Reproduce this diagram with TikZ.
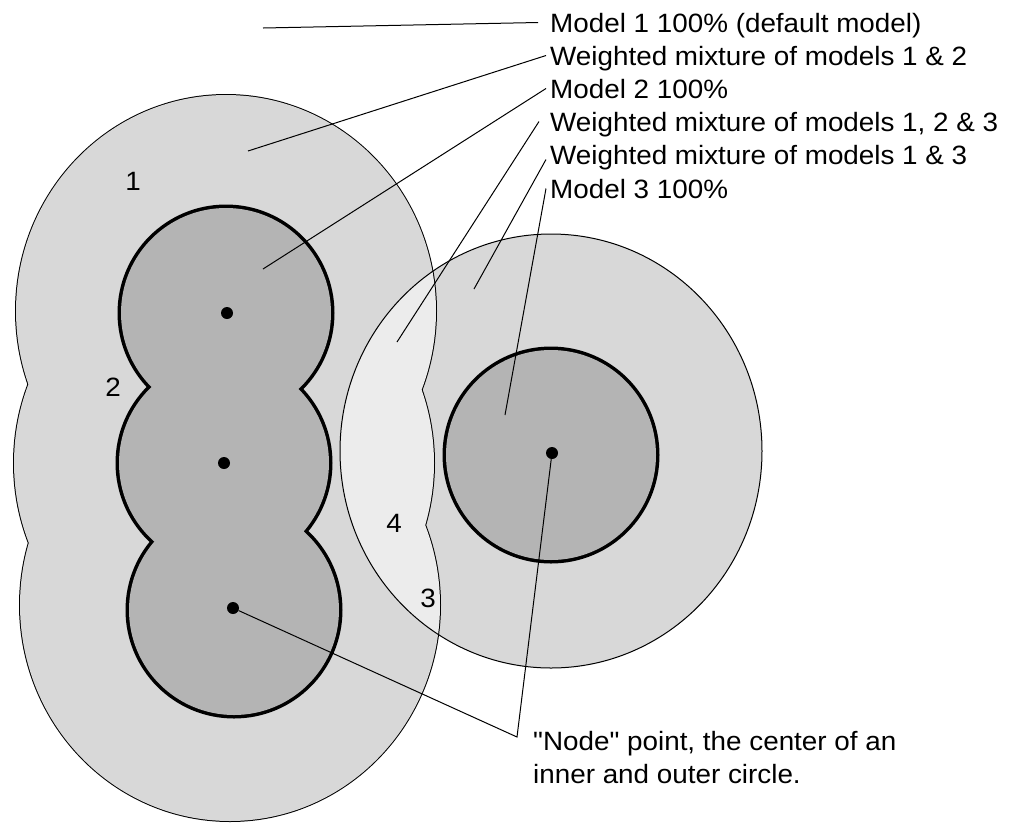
\documentclass[tikz,border=0pt]{standalone}
\usepackage{fontspec}
\setmainfont{Liberation Sans}[FakeStretch=1.05, Ligatures=TeXOff]
\usetikzlibrary{calc}
\definecolor{outerg}{HTML}{D8D8D8}
\definecolor{innerg}{HTML}{B4B4B4}
\definecolor{overg}{HTML}{ECECEC}
\newcommand\labfont{\fontsize{26.5}{33}\selectfont}
\begin{document}
\begin{tikzpicture}[x=1pt,y=-1pt,
  lbl/.style={anchor=base west, inner xsep=4pt, inner ysep=0pt, text height=19pt, text depth=0pt, font=\labfont},
  num/.style={anchor=base, inner sep=0pt, font=\labfont},
  lead/.style={draw=black, line width=1pt},
  dotn/.style={circle, fill=black, inner sep=0pt, minimum size=12pt}]
\useasboundingbox (0,0) rectangle (1012,823);
\fill[white] (0,0) rectangle (1012,823);
% left outer blob
\filldraw[fill=outerg, draw=black, line width=2pt]
  (226,311) ellipse [x radius=210, y radius=216]
  (224,463) ellipse [x radius=210, y radius=216]
  (230,605) ellipse [x radius=210, y radius=216];
\fill[outerg]
  (226,311) ellipse [x radius=210, y radius=216]
  (224,463) ellipse [x radius=210, y radius=216]
  (230,605) ellipse [x radius=210, y radius=216];
% right outer circle
\fill[outerg] (551,451) ellipse [x radius=211, y radius=217];
\begin{scope}
  \clip (551,451) ellipse [x radius=211, y radius=217];
  \draw[black, line width=2pt]
    (226,311) ellipse [x radius=210, y radius=216]
    (224,463) ellipse [x radius=210, y radius=216]
    (230,605) ellipse [x radius=210, y radius=216];
  \fill[overg]
    (226,311) ellipse [x radius=210, y radius=216]
    (224,463) ellipse [x radius=210, y radius=216]
    (230,605) ellipse [x radius=210, y radius=216];
\end{scope}
\draw[black, line width=1pt] (551,451) ellipse [x radius=211, y radius=217];
% inner circles
\draw[black, line width=7pt]
  (226,313) circle [radius=105]
  (224,463) circle [radius=105]
  (234,610) circle [radius=105];
\fill[innerg]
  (226,313) circle [radius=105]
  (224,463) circle [radius=105]
  (234,610) circle [radius=105];
\draw[black, line width=7pt] (551,455) circle [radius=105];
\fill[innerg] (551,455) circle [radius=105];
% node points
\node[dotn] (d1) at (227,313) {};
\node[dotn] (d2) at (224,463) {};
\node[dotn] (d3) at (233,608) {};
\node[dotn] (d4) at (552,453) {};
% region numbers
\node[num] (n1) at (133,190) {1};
\node[num] (n2) at (113,396) {2};
\node[num] (n4) at (394,532) {4};
\node[num] (n3) at (428,607) {3};
% labels
\node[lbl] (l1) at (546,32) {Model 1 100\% (default model)};
\node[lbl] (l2) at (546,65) {Weighted mixture of models 1 \& 2};
\node[lbl] (l3) at (546,98) {Model 2 100\%};
\node[lbl] (l4) at (546,131) {Weighted mixture of models 1, 2 \& 3};
\node[lbl] (l5) at (546,164) {Weighted mixture of models 1 \& 3};
\node[lbl] (l6) at (546,198) {Model 3 100\%};
\node[lbl] (t1) at (529,750) {"Node" point, the center of an};
\node[lbl] (t2) at (529,783) {inner and outer circle.};
% leader ends
\coordinate (p1) at (263,28);
\coordinate (p2) at (248,151);
\coordinate (p3) at (263,269);
\coordinate (p4) at (397,342);
\coordinate (p5) at (474,289);
\coordinate (p6) at (505,415);
\coordinate (j) at (517,737);
\draw[lead] ([xshift=-8pt]l1.west) -- (p1);
\draw[lead] (l2.west) -- (p2);
\draw[lead] (l3.west) -- (p3);
\draw[lead] ([xshift=-7pt]l4.west) -- (p4);
\draw[lead] ([yshift=-5pt]l5.west) -- (p5);
\draw[lead] (l6.west) -- (p6);
\draw[lead] (d3) -- (j) -- (d4);
\end{tikzpicture}
\end{document}
